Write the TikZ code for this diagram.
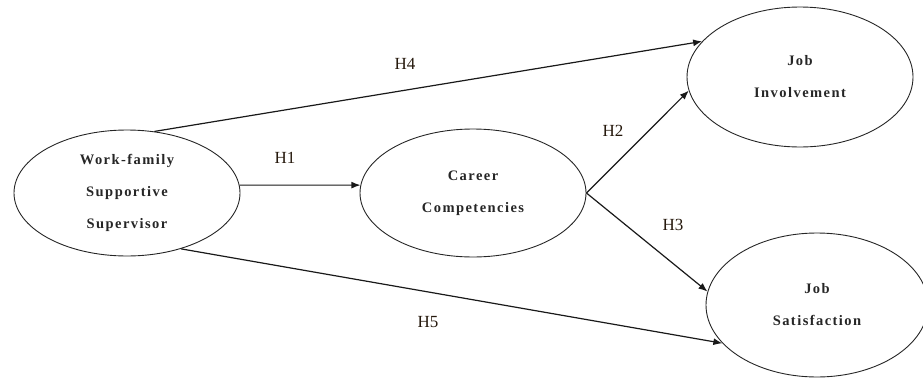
\documentclass[tikz,border=0pt]{standalone}
\usepackage{fontspec}
\setmainfont{Liberation Serif}
\newfontfamily\boxfont[LetterSpace=10]{Liberation Serif}
\usetikzlibrary{shapes.geometric,arrows.meta}
\begin{document}
\begin{tikzpicture}[x=1pt,y=-1pt,
  construct/.style={draw=black!85, line width=0.9pt, ellipse, inner sep=0pt,
    align=center, font=\boxfont\bfseries\fontsize{14.5}{32}\selectfont, text=black!85},
  path/.style={draw=black!90, line width=1.2pt, -{Latex[length=9pt,width=7pt]}},
  hyp/.style={font=\fontsize{17}{18}\selectfont, text=black!80!brown, inner sep=1pt}]
\useasboundingbox (0,0) rectangle (923,380);
\node[construct, minimum width=226pt, minimum height=126pt] (wfss) at (127,193) {Work-family\\Supportive\\Supervisor};
\node[construct, minimum width=226pt, minimum height=128pt] (cc) at (473,193) {Career\\Competencies};
\node[construct, minimum width=226pt, minimum height=140pt] (ji) at (800,77) {Job\\Involvement};
\node[construct, minimum width=222pt, minimum height=144pt] (js) at (817,305) {Job\\Satisfaction};
\draw[path] (wfss.4) -- (cc.176);
\draw[path] (wfss.66) -- (ji.160);
\draw[path] (wfss.-46) -- (js.202);
\draw[path] (cc.0) -- (ji.187);
\draw[path] (cc.0) -- (js.173);
\node[hyp] (h1) at (285,158) {H1};
\node[hyp] (h4) at (405,64) {H4};
\node[hyp] (h2) at (613,131) {H2};
\node[hyp] (h3) at (673,225) {H3};
\node[hyp] (h5) at (428,322) {H5};
\end{tikzpicture}
\end{document}
